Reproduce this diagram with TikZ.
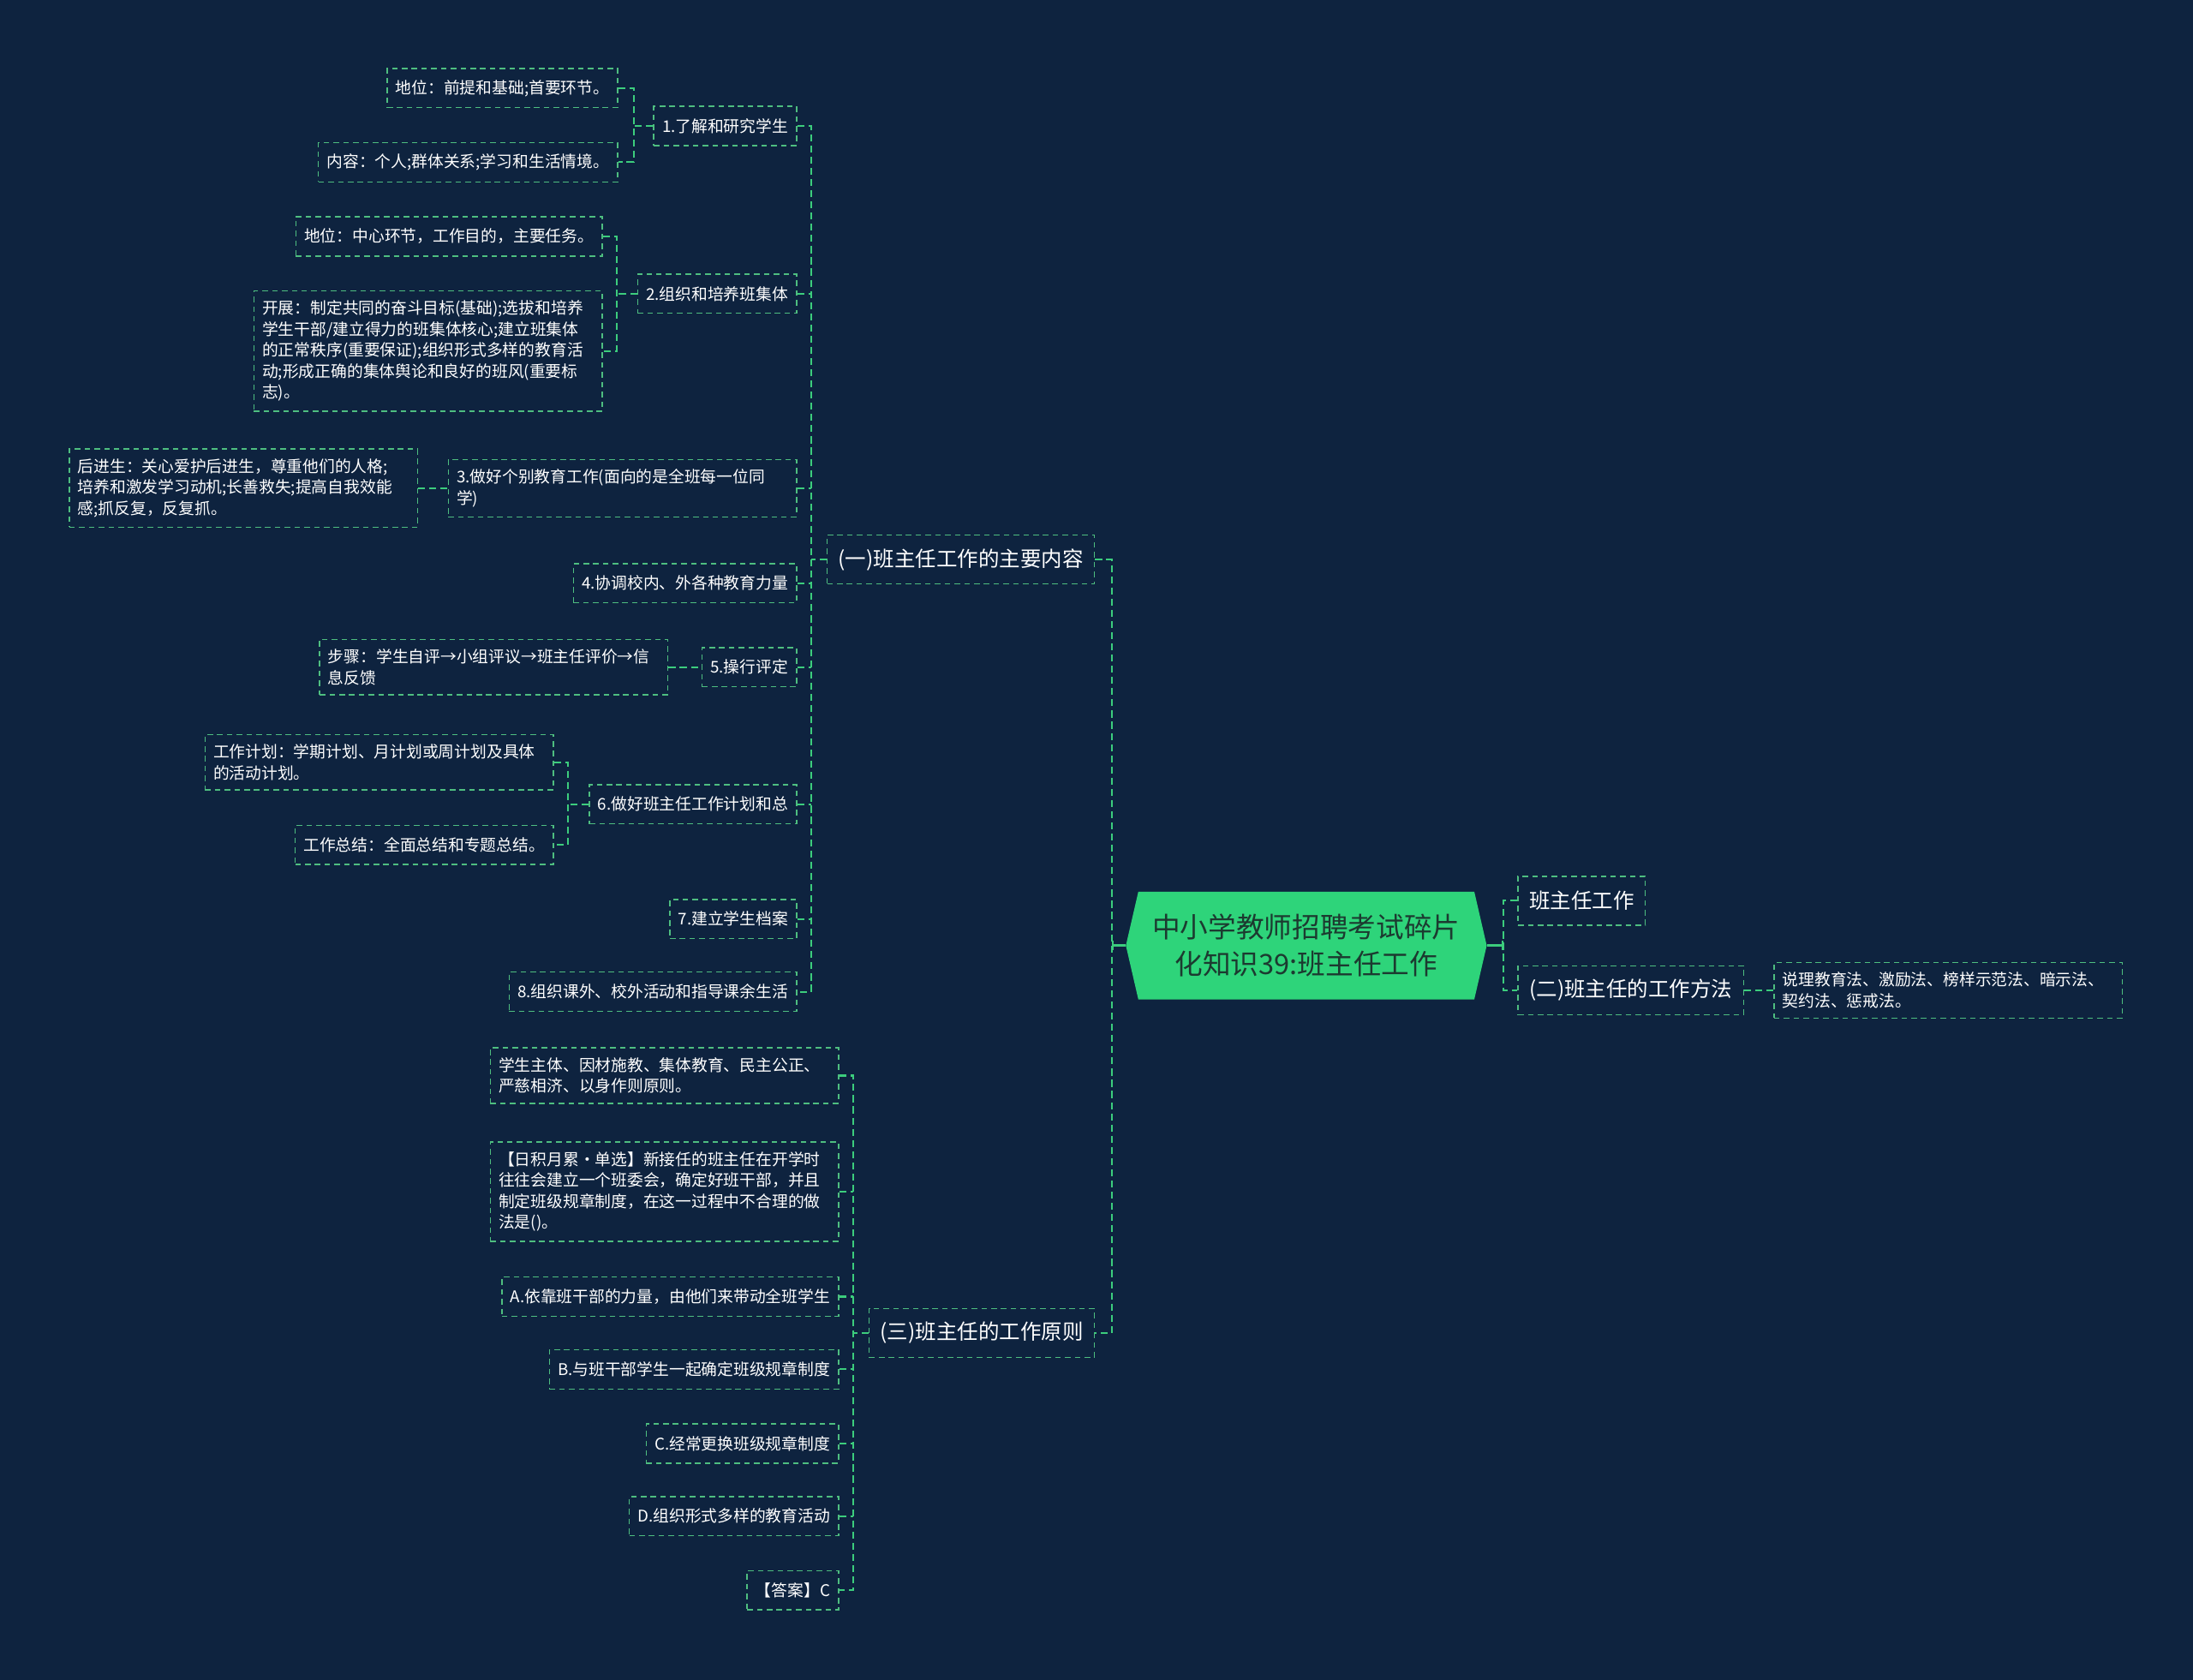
\documentclass[tikz,border=0pt]{standalone}
\usepackage{fontspec}
\setmainfont{Noto Sans CJK SC}
\usetikzlibrary{arrows.meta, shapes.symbols, positioning, calc}
\definecolor{mapbg}{RGB}{14, 35, 63}
\definecolor{rootfill}{RGB}{46, 212, 122}
\definecolor{rootink}{RGB}{28, 58, 48}
\definecolor{boxline}{RGB}{78, 190, 128}
\definecolor{trunk}{RGB}{60, 205, 125}

\begin{document}
\begin{tikzpicture}[
    x=1pt, y=-1pt,
    every node/.style={font=\fontsize{11.5}{15}\selectfont, text=white},
    leaf/.style={draw=boxline, dash pattern=on 4pt off 3pt, line width=0.9pt,
      fill=mapbg, inner xsep=6pt, inner ysep=7pt, minimum height=28pt, align=left},
    wide/.style={leaf, text width=237pt},
    topic/.style={leaf, font=\fontsize{15}{18}\selectfont, inner xsep=8pt, minimum height=35pt},
    mainroot/.style={signal, signal to=east and west, signal pointer angle=154,
      fill=rootfill, text=rootink, font=\fontsize{20}{26}\selectfont,
      minimum width=258pt, minimum height=77pt, inner xsep=2pt, align=center},
    link/.style={draw=trunk, dash pattern=on 5pt off 3pt, line width=1.3pt},
    rootlink/.style={draw=trunk, line width=2pt, -{Bar[width=7pt, line width=1.4pt]}},
  ]
  \fill[mapbg] (0,0) rectangle (1568,1201);
  \useasboundingbox (0,0) rectangle (1568,1201);

  \node[mainroot] (root) at (934,676) {中小学教师招聘考试碎片\\化知识39:班主任工作};

  \node[topic, anchor=east] (part1) at (783,400) {(一)班主任工作的主要内容};
  \node[topic, anchor=east] (part3) at (783,953) {(三)班主任的工作原则};
  \node[topic, anchor=west] (work) at (1085,644) {班主任工作};
  \node[topic, anchor=west] (part2) at (1085,708) {(二)班主任的工作方法};
  \node[wide, anchor=west] (methods) at (1268,708) {说理教育法、激励法、榜样示范法、暗示法、\\契约法、惩戒法。};

  % (一)
  \node[leaf, anchor=east] (item1) at (570,90) {1.了解和研究学生};
  \node[leaf, anchor=east] (item1a) at (442,63) {地位：前提和基础;首要环节。};
  \node[leaf, anchor=east] (item1b) at (442,116) {内容：个人;群体关系;学习和生活情境。};
  \node[leaf, anchor=east] (item2) at (570,210) {2.组织和培养班集体};
  \node[leaf, anchor=east] (item2a) at (431,169) {地位：中心环节，工作目的，主要任务。};
  \node[wide, anchor=east] (item2b) at (431,251) {开展：制定共同的奋斗目标(基础);选拔和培养\\学生干部/建立得力的班集体核心;建立班集体\\的正常秩序(重要保证);组织形式多样的教育活\\动;形成正确的集体舆论和良好的班风(重要标\\志)。};
  \node[wide, anchor=east] (item3) at (570,349) {3.做好个别教育工作(面向的是全班每一位同\\学)};
  \node[wide, anchor=east] (item3a) at (299,349) {后进生：关心爱护后进生，尊重他们的人格;\\培养和激发学习动机;长善救失;提高自我效能\\感;抓反复，反复抓。};
  \node[leaf, anchor=east] (item4) at (570,417) {4.协调校内、外各种教育力量};
  \node[leaf, anchor=east] (item5) at (570,477) {5.操行评定};
  \node[wide, anchor=east] (item5a) at (478,477) {步骤：学生自评→小组评议→班主任评价→信\\息反馈};
  \node[leaf, anchor=east] (item6) at (570,575) {6.做好班主任工作计划和总};
  \node[wide, anchor=east] (item6a) at (396,545) {工作计划：学期计划、月计划或周计划及具体\\的活动计划。};
  \node[leaf, anchor=east] (item6b) at (396,604) {工作总结：全面总结和专题总结。};
  \node[leaf, anchor=east] (item7) at (570,657) {7.建立学生档案};
  \node[leaf, anchor=east] (item8) at (570,709) {8.组织课外、校外活动和指导课余生活};

  % (三)
  \node[wide, anchor=east] (rule1) at (600,769) {学生主体、因材施教、集体教育、民主公正、\\严慈相济、以身作则原则。};
  \node[wide, anchor=east] (rule2) at (600,852) {【日积月累·单选】新接任的班主任在开学时\\往往会建立一个班委会，确定好班干部，并且\\制定班级规章制度，在这一过程中不合理的做\\法是()。};
  \node[leaf, anchor=east] (optA) at (600,927) {A.依靠班干部的力量，由他们来带动全班学生};
  \node[leaf, anchor=east] (optB) at (600,979) {B.与班干部学生一起确定班级规章制度};
  \node[leaf, anchor=east] (optC) at (600,1032) {C.经常更换班级规章制度};
  \node[leaf, anchor=east] (optD) at (600,1084) {D.组织形式多样的教育活动};
  \node[leaf, anchor=east] (answer) at (600,1137) {【答案】C};

  % root branches
  \draw[link] (part1.east) -- ++(12,0) |- (part3.east);
  \draw[rootlink] (root.west) -- ++(-10,0);
  \draw[link] (work.west) -- ++(-10,0) |- (part2.west);
  \draw[rootlink] (root.east) -- ++(12,0);
  \draw[link] (part2.east) -- (methods.west);

  % (一) branches
  \draw[link] (item1.east) -- ++(10,0) |- (item8.east);
  \foreach \kid in {item2, item3, item4, item5, item6, item7}
    \draw[link] (\kid.east) -- ++(10,0);
  \draw[link] (part1.west) -- (part1.west -| {$(item1.east)+(10,0)$});
  \draw[link] (item1a.east) -- ++(11,0) |- (item1b.east);
  \draw[link] (item1.west) -- (item1.west -| {$(item1a.east)+(11,0)$});
  \draw[link] (item2a.east) -- ++(10,0) |- (item2b.east);
  \draw[link] (item2.west) -- (item2.west -| {$(item2a.east)+(10,0)$});
  \draw[link] (item3a.east) -- (item3.west);
  \draw[link] (item5a.east) -- (item5.west);
  \draw[link] (item6a.east) -- ++(10,0) |- (item6b.east);
  \draw[link] (item6.west) -- (item6.west -| {$(item6a.east)+(10,0)$});

  % (三) branches
  \draw[link] (rule1.east) -- ++(10,0) |- (answer.east);
  \foreach \kid in {rule2, optA, optB, optC, optD}
    \draw[link] (\kid.east) -- ++(10,0);
  \draw[link] (part3.west) -- (part3.west -| {$(rule1.east)+(10,0)$});
\end{tikzpicture}
\end{document}
